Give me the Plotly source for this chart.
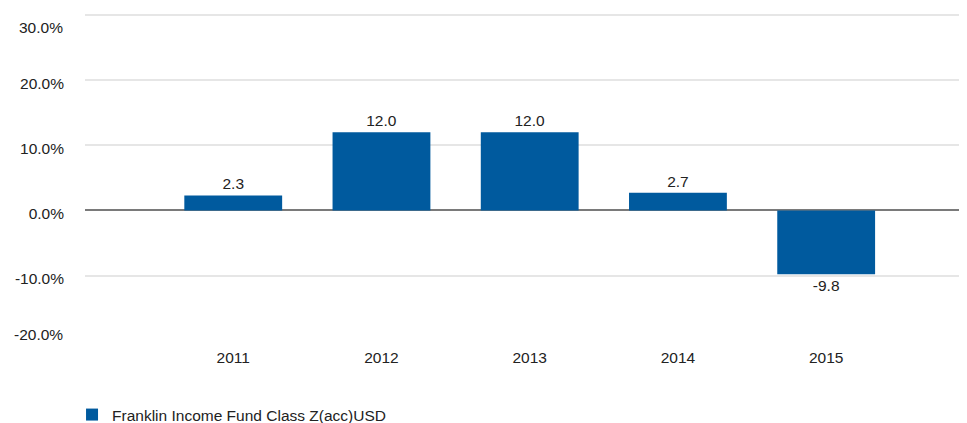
import plotly.graph_objects as go

years = [2011, 2012, 2013, 2014, 2015]
returns = [2.3, 12.0, 12.0, 2.7, -9.8]
series_name = "Franklin Income Fund Class Z(acc)USD"
y_ticks = [-20, -10, 0, 10, 20, 30]
y_ticktext = ["-20.0%", "-10.0%", "0.0%", "10.0%", "20.0%", "30.0%"]

FONT = "Liberation Sans, Arial, sans-serif"
FS = 15.5
TXT = "#222222"

# end labels are drawn as annotations (nudged inward, as in the reference)
axis_text = [("" if v in (y_ticks[0], y_ticks[-1]) else t) for v, t in zip(y_ticks, y_ticktext)]

fig = go.Figure()
fig.add_trace(go.Bar(
    x=years, y=returns, name=series_name,
    marker=dict(color="#005A9E", line=dict(width=0)),
    width=0.66,
    texttemplate="%{y:.1f}", textposition="outside",
    textfont=dict(family=FONT, size=FS, color=TXT),
    cliponaxis=False,
    showlegend=True,
))

for v, t, shift in [(y_ticks[-1], y_ticktext[-1], -13), (y_ticks[0], y_ticktext[0], 6)]:
    fig.add_annotation(
        xref="paper", x=0, xanchor="right", xshift=-20,
        yref="y", y=v, yanchor="middle", yshift=shift,
        text=t, showarrow=False, font=dict(family=FONT, size=FS, color=TXT),
    )

fig.update_layout(
    width=959, height=415,
    margin=dict(l=77, r=0, t=5, b=82, autoexpand=False),
    paper_bgcolor="white", plot_bgcolor="white",
    font=dict(family=FONT, size=FS, color=TXT),
    showlegend=True,
    legend=dict(x=-0.0147, xanchor="left", y=-0.2256, yanchor="middle",
                orientation="h", font=dict(family=FONT, size=FS, color=TXT),
                bgcolor="rgba(0,0,0,0)"),
    xaxis=dict(
        range=[2010.0, 2015.95], tickvals=years, ticktext=[str(y) for y in years],
        showgrid=False, zeroline=False, showline=False, ticks="",
        ticklabelstandoff=5, automargin=False,
    ),
    yaxis=dict(
        range=[-20.05, 30.3], tickvals=y_ticks, ticktext=axis_text,
        showgrid=True, gridcolor="#e6e6e6", gridwidth=1.5,
        zeroline=True, zerolinecolor="#7a7a7a", zerolinewidth=2,
        showline=False, ticks="", ticklabelstandoff=20, automargin=False,
        ticklabelshift=3, ticklabeloverflow="allow",
    ),
)

fig.write_html("out.html")
